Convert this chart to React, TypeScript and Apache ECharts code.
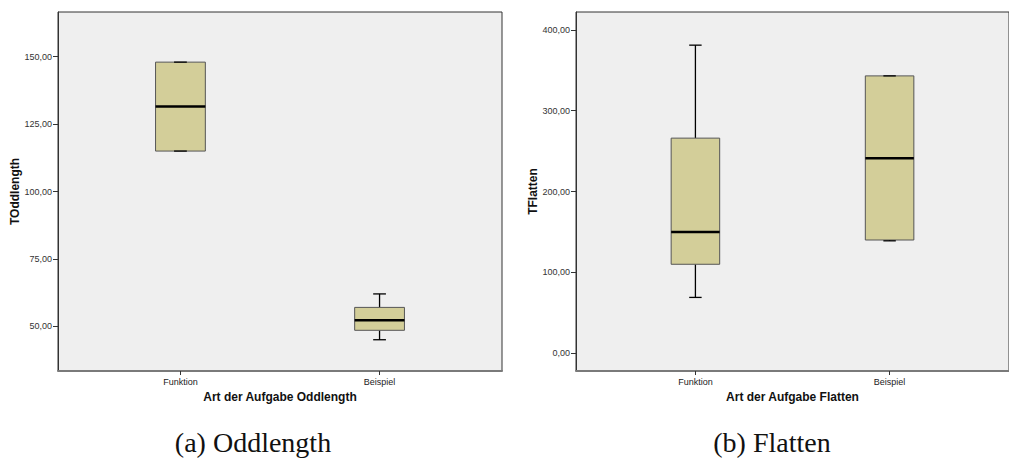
import React, { useEffect, useRef } from "react";
import * as echarts from "echarts";

// ---- data ----
const categories = ["Funktion", "Beispiel"];
// [min, q1, median, q3, max]
const oddlengthBoxes = [
  [115, 115, 131.5, 148, 148],
  [45, 48.5, 52.2, 57, 62],
];
const flattenBoxes = [
  [69, 110, 150, 266, 381],
  [139, 140, 241, 343, 343],
];
const oddlengthTicks = [50, 75, 100, 125, 150];
const flattenTicks = [0, 100, 200, 300, 400];
const captions = ["(a) Oddlength", "(b) Flatten"];
const xTitles = ["Art der Aufgabe Oddlength", "Art der Aufgabe Flatten"];
const yTitles = ["TOddlength", "TFlatten"];

const SANS = "Liberation Sans, Arial, sans-serif";

function renderBox(params: any, api: any) {
  const x = api.value(0);
  const mn = api.value(1);
  const q1 = api.value(2);
  const md = api.value(3);
  const q3 = api.value(4);
  const mx = api.value(5);
  const halfW = api.size([0.125, 0])[0];
  const capHalf = api.size([0.032, 0])[0];
  const pMin = api.coord([x, mn]);
  const pQ1 = api.coord([x, q1]);
  const pMd = api.coord([x, md]);
  const pQ3 = api.coord([x, q3]);
  const pMax = api.coord([x, mx]);
  const cx = pMd[0];
  const lineStyle = { stroke: "#000", lineWidth: 1.3 };
  return {
    type: "group",
    children: [
      { type: "line", shape: { x1: cx, y1: pMax[1], x2: cx, y2: pQ3[1] }, style: lineStyle },
      { type: "line", shape: { x1: cx, y1: pQ1[1], x2: cx, y2: pMin[1] }, style: lineStyle },
      {
        type: "rect",
        shape: { x: cx - halfW, y: pQ3[1], width: 2 * halfW, height: pQ1[1] - pQ3[1] },
        style: { fill: "#d3ce99", stroke: "#555", lineWidth: 1 },
      },
      { type: "line", shape: { x1: cx - halfW, y1: pMd[1], x2: cx + halfW, y2: pMd[1] }, style: { stroke: "#000", lineWidth: 2.5 } },
      { type: "line", shape: { x1: cx - capHalf, y1: pMax[1], x2: cx + capHalf, y2: pMax[1] }, style: lineStyle },
      { type: "line", shape: { x1: cx - capHalf, y1: pMin[1], x2: cx + capHalf, y2: pMin[1] }, style: lineStyle },
    ],
  };
}

const fmt = (v: number) => v.toFixed(2).replace(".", ",");

function makeXAxis(gridIndex: number) {
  return {
    gridIndex,
    type: "value",
    min: -0.615,
    max: 1.615,
    splitLine: { show: false },
    axisLine: { show: true, onZero: false, lineStyle: { color: "#7a7a7a", width: 2 } },
    axisTick: { show: true, customValues: [0, 1], length: 4, lineStyle: { color: "#333", width: 1 } },
    axisLabel: {
      customValues: [0, 1],
      formatter: (v: number) => categories[Math.round(v)],
      fontSize: 9,
      color: "#222",
      margin: 6,
      fontFamily: SANS,
    },
    name: xTitles[gridIndex],
    nameLocation: "middle",
    nameGap: 20,
    nameTextStyle: { fontWeight: "bold", fontSize: 12, color: "#111", fontFamily: SANS },
  };
}

function makeYAxis(gridIndex: number, min: number, max: number, ticks: number[], gap: number) {
  return {
    gridIndex,
    type: "value",
    position: "left",
    min,
    max,
    splitLine: { show: false },
    axisLine: { show: true, onZero: false, lineStyle: { color: "#333", width: 1 } },
    axisTick: { show: true, customValues: ticks, length: 5, lineStyle: { color: "#333", width: 1 } },
    axisLabel: {
      customValues: ticks,
      formatter: fmt,
      fontSize: 9,
      color: "#333",
      margin: 6,
      fontFamily: SANS,
    },
    name: yTitles[gridIndex],
    nameLocation: "middle",
    nameGap: gap,
    nameTextStyle: { fontWeight: "bold", fontSize: 12, color: "#111", fontFamily: SANS },
  };
}

export default function App() {
  const ref = useRef<HTMLDivElement>(null);
  useEffect(() => {
    if (!ref.current) return;
    const chart = echarts.init(ref.current, null, { renderer: "svg" });
    const gridStyle = { show: true, backgroundColor: "#efefef", borderColor: "#333", borderWidth: 1 };
    chart.setOption({
      animation: false,
      backgroundColor: "#fff",
      grid: [
        { left: 58, top: 12, width: 444, height: 359, ...gridStyle },
        { left: 576, top: 12, width: 445, height: 359, ...gridStyle },
      ],
      xAxis: [makeXAxis(0), makeXAxis(1)],
      yAxis: [
        makeYAxis(0, 33.4, 166.6, oddlengthTicks, 35),
        makeYAxis(1, -22, 422, flattenTicks, 37),
      ],
      series: [
        {
          type: "custom",
          xAxisIndex: 0,
          yAxisIndex: 0,
          renderItem: renderBox,
          encode: { x: 0, y: [1, 2, 3, 4, 5] },
          data: oddlengthBoxes.map((b, i) => [i, ...b]),
        },
        {
          type: "custom",
          xAxisIndex: 1,
          yAxisIndex: 1,
          renderItem: renderBox,
          encode: { x: 0, y: [1, 2, 3, 4, 5] },
          data: flattenBoxes.map((b, i) => [i, ...b]),
        },
      ],
      graphic: [
        {
          type: "text",
          x: 253,
          y: 442,
          style: { text: captions[0], fontSize: 28, fontFamily: "Liberation Serif, serif", fill: "#111", align: "center", verticalAlign: "middle" },
        },
        {
          type: "text",
          x: 772,
          y: 442,
          style: { text: captions[1], fontSize: 28, fontFamily: "Liberation Serif, serif", fill: "#111", align: "center", verticalAlign: "middle" },
        },
      ],
    });
    return () => chart.dispose();
  }, []);
  return <div ref={ref} style={{ position: "fixed", left: 0, top: 0, width: 1009, height: 459 }} />;
}
